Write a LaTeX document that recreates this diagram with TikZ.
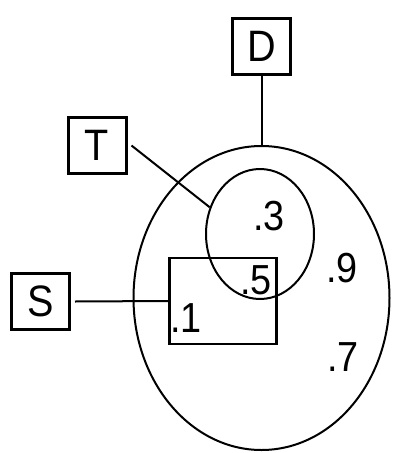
\documentclass[tikz,border=0pt]{standalone}
\usepackage{fontspec}
\setmainfont{Liberation Sans}
\newfontfamily\narrowsans[FakeStretch=0.9]{Liberation Sans}
\usetikzlibrary{shapes.geometric}
\tikzset{
    setbox/.style={draw, line width=3pt, minimum width=58pt, minimum height=56pt, inner sep=0pt, font=\narrowsans\fontsize{44}{44}\selectfont},
    region/.style={draw, line width=2pt, ellipse, inner sep=0pt},
    prob/.style={inner sep=0pt, font=\narrowsans\fontsize{42}{42}\selectfont},
    link/.style={line width=2pt}
}

\begin{document}
\begin{tikzpicture}[x=1pt, y=-1pt]
        \useasboundingbox (0,0) rectangle (392,453);

        % universe and events
        \node[region, minimum width=256pt, minimum height=304pt] (dom) at (261.5,298) {};
        \node[region, minimum width=108pt, minimum height=130pt] (tset) at (260,234) {};
        \node[draw, line width=2.2pt, minimum width=107pt, minimum height=86pt, inner sep=0pt] (sset) at (223,301) {};

        % labels
        \node[setbox] (D) at (261.5,46) {D};
        \node[setbox] (T) at (97,145.5) {T};
        \node[setbox] (S) at (40.5,301.5) {S};

        % values
        \node[prob] (p3) at (269,216) {.3};
        \node[prob] (p5) at (256,280) {.5};
        \node[prob] (p1) at (186,318) {.1};
        \node[prob] (p9) at (342,268) {.9};
        \node[prob] (p7) at (343,357) {.7};

        \draw[link] (D.south) -- (dom.north);
        \draw[link] ([xshift=4pt]T.east) -- (tset.152);
        \draw[link] ([xshift=4pt]S.east) -- (sset.west);
    \end{tikzpicture}
\end{document}
